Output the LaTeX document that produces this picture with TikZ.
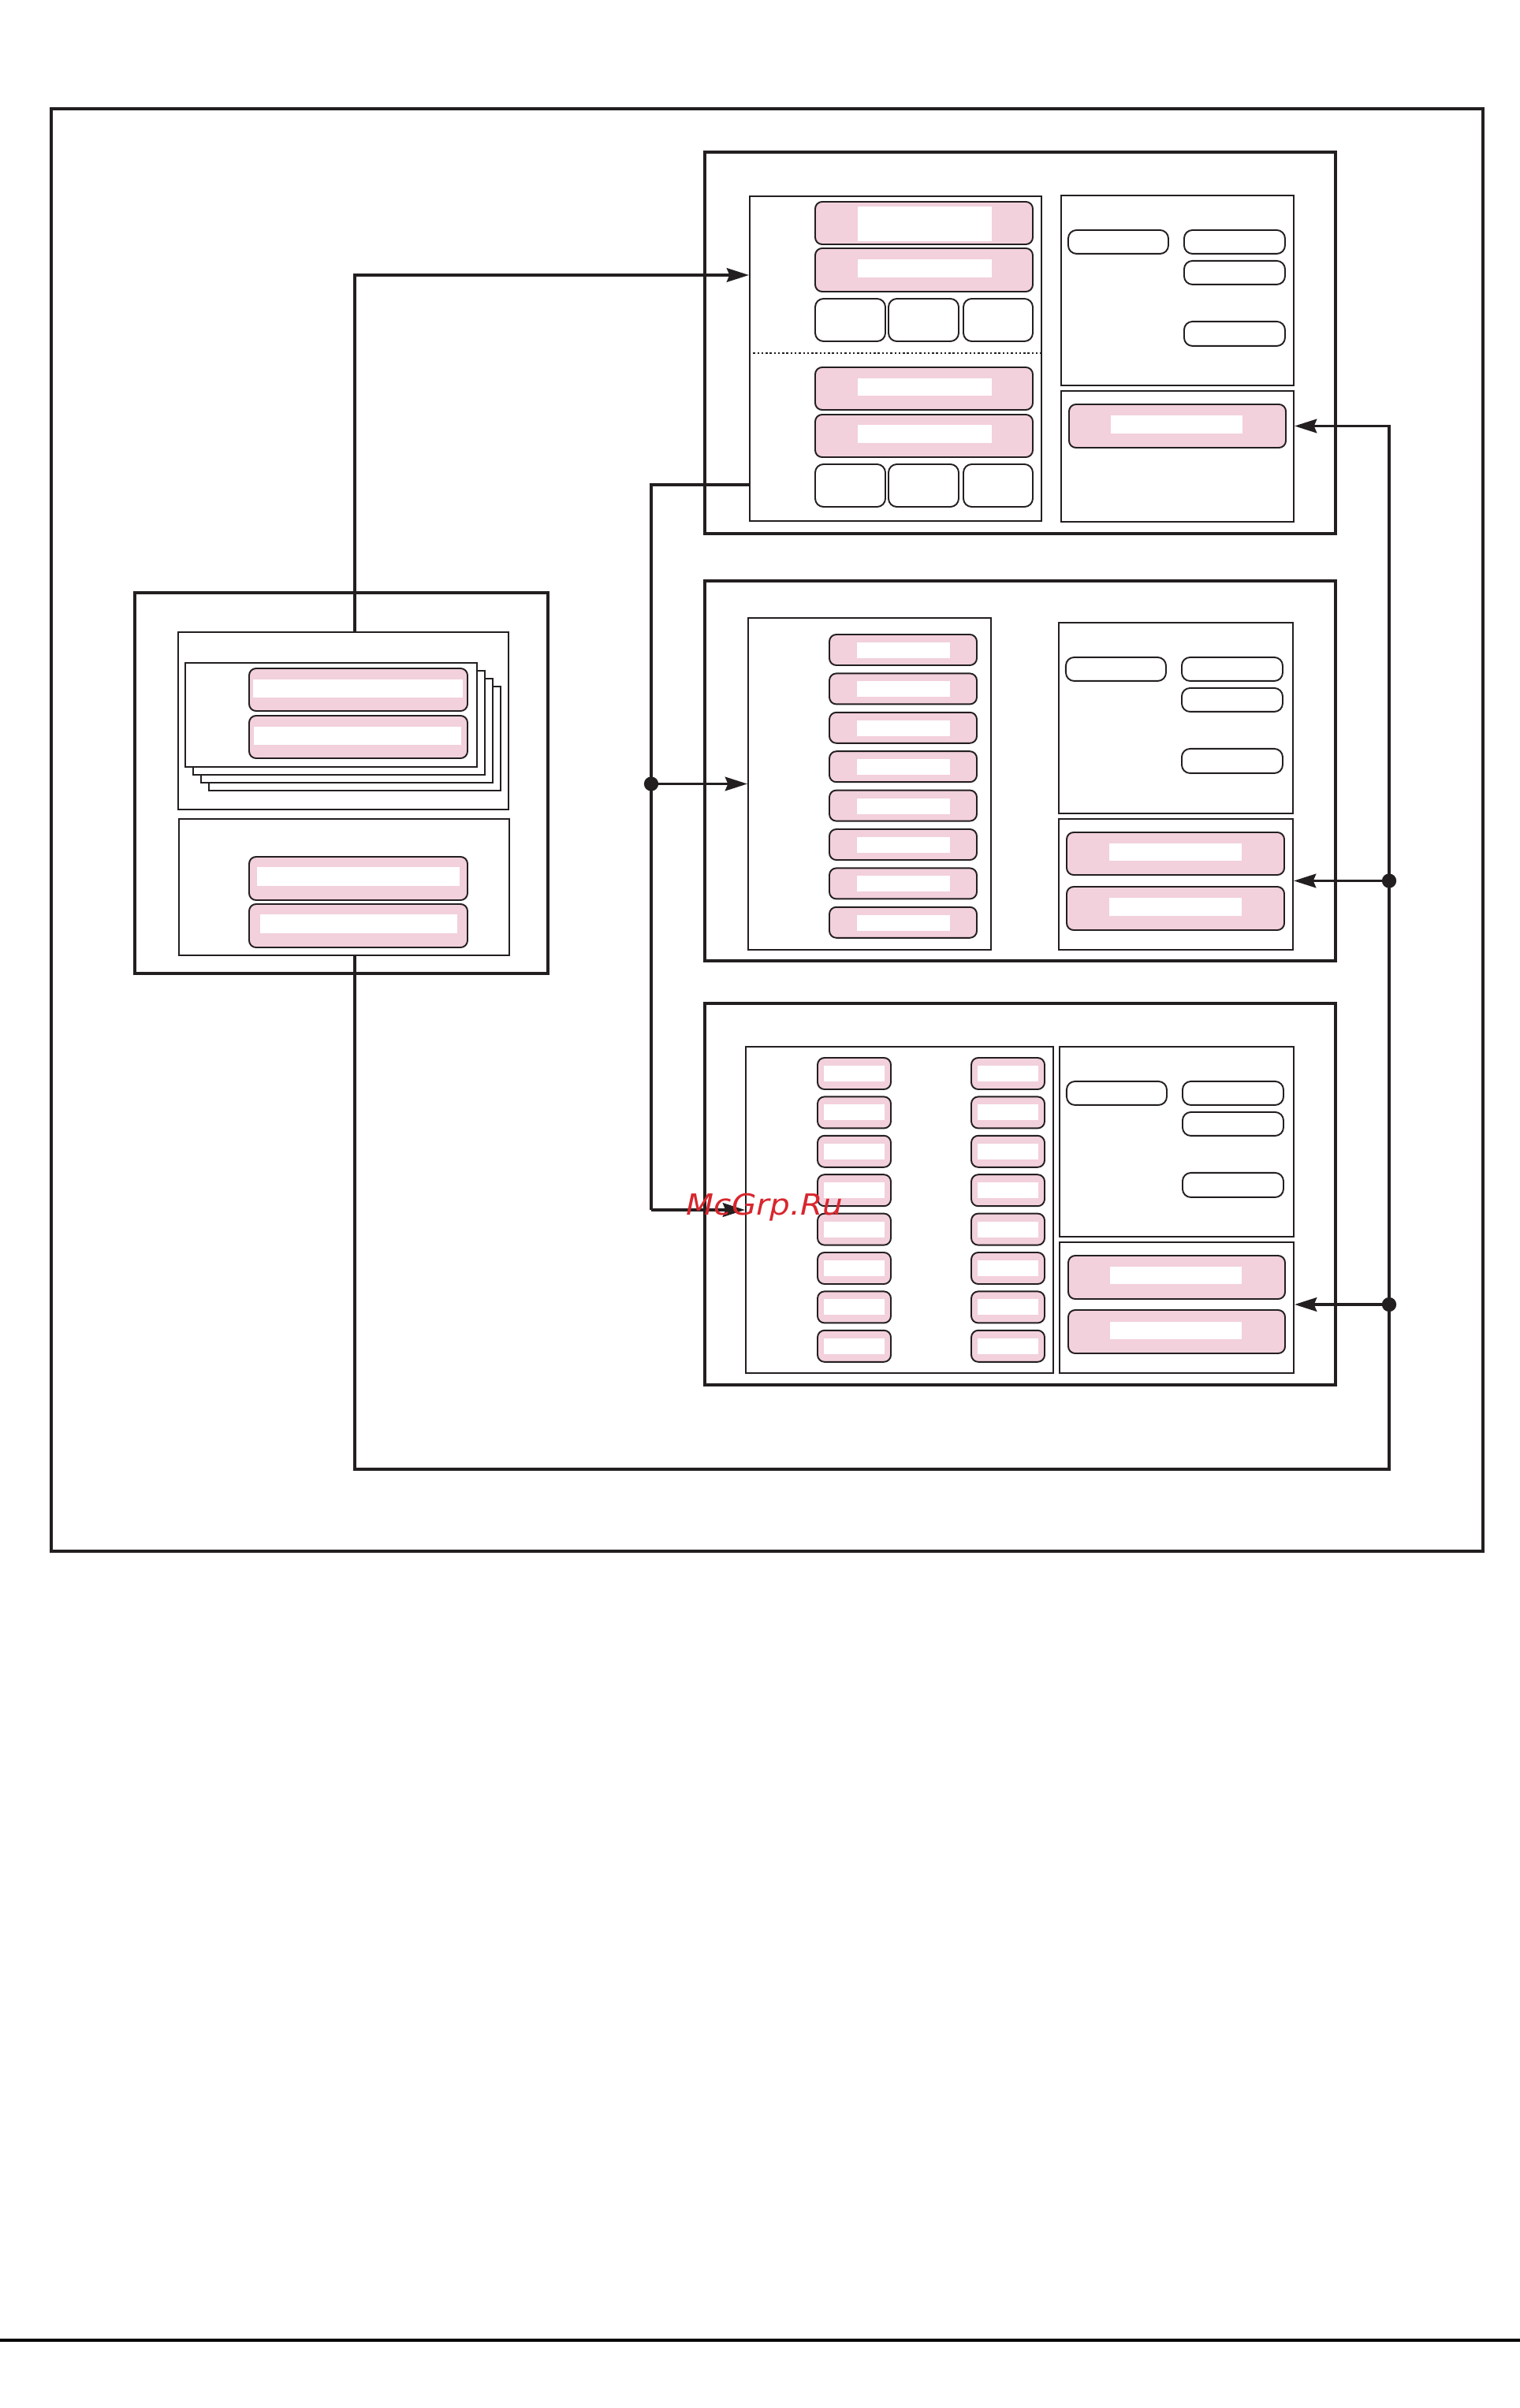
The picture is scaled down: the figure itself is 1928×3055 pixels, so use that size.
\documentclass[tikz,border=0pt]{standalone}
\usepackage{tikz}
\usetikzlibrary{arrows.meta,positioning,calc,fit}
\usepackage{fontspec}
\newfontfamily\wmfont{DejaVu Sans}
\definecolor{ink}{HTML}{231F20}
\definecolor{pinkfill}{HTML}{F2D0DC}
\definecolor{wmred}{HTML}{D8262E}

\begin{document}
\begin{tikzpicture}[x=0.01cm, y=-0.01cm,
  frame/.style={draw=ink, line width=1pt, inner sep=0pt},
  block/.style={draw=ink, line width=0.95pt, inner sep=0pt},
  panel/.style={draw=ink, line width=0.6pt, inner sep=0pt},
  bar/.style={draw=ink, fill=pinkfill, line width=0.55pt, rounded corners=2.5pt, inner sep=0pt},
  keybox/.style={draw=ink, fill=white, line width=0.55pt, rounded corners=3pt},
  sheet/.style={draw=ink, fill=white, line width=0.5pt},
  link/.style={draw=ink, line width=1pt},
  arr/.style={link, -{Stealth[length=8pt,width=5pt,inset=1pt]}}]
  \useasboundingbox (0,0) rectangle (1928,3055);

  % Outer frame and page rule
  \node[frame, fit={(65,138) (1881,1968)}] (page) {};
  \draw[black, line width=1.2pt] (0,2969) -- (1928,2969);

  % Left block with stacked sheets
  \node[frame, fit={(171,752) (695,1235)}] (lblk) {};
  \node[panel, fit={(226,802) (645,1027)}] (lup) {};
  \node[panel, fit={(227,1039) (646,1212)}] (llo) {};
  \foreach \k in {3,2,1,0}
    \draw[sheet] ({235+10*\k},{841+10*\k}) rectangle ({605+10*\k},{973+10*\k});
  \foreach \ya/\yb/\xa/\xb/\wa/\wb in {848/902/321/587/862/885, 908/962/322/585/922/945,
      1087/1142/326/583/1100/1124, 1147/1202/330/580/1160/1184} {
    \draw[bar] (316,\ya) rectangle (593,\yb);
    \fill[white] (\xa,\wa) rectangle (\xb,\wb);
  }

  % Top block
  \node[block, fit={(894,193) (1694,677)}] (tblk) {};
  \node[panel, fit={(951,249) (1321,661)}] (topL) {};
  \node[panel, fit={(1346,248) (1641,489)}] (tRup) {};
  \node[panel, fit={(1346,496) (1641,662)}] (tRlo) {};
  \foreach \ya/\yb/\wa/\wb in {256/310/262/306, 315/370/329/352, 466/520/480/502, 526/580/539/562} {
    \draw[bar] (1034,\ya) rectangle (1310,\yb);
    \fill[white] (1088,\wa) rectangle (1258,\wb);
  }
  \foreach \ya in {379,589}
    \foreach \xa/\xb in {1034/1123, 1127/1216, 1222/1310}
      \draw[keybox] (\xa,\ya) rectangle (\xb,{\ya+54});
  \draw[ink, line width=0.6pt, dash pattern=on 0.7pt off 0.8pt] (topL.west |- 0,448) -- (topL.east |- 0,448);
  \node[bar, fit={(1356,513) (1631,568)}] (tbar) {};
  \fill[white] (1409,527) rectangle (1576,550);

  % Middle block
  \node[block, fit={(894,737) (1694,1219)}] (mblk) {};
  \node[panel, fit={(949,784) (1257,1205)}] (midL) {};
  \node[panel, fit={(1343,790) (1640,1032)}] (mRup) {};
  \node[panel, fit={(1343,1039) (1640,1205)}] (mRlo) {};
  \foreach \i in {0,...,7} {
    \draw[bar] (1052,{805+49.4*\i}) rectangle (1239,{844+49.4*\i});
    \fill[white] (1087,{815+49.4*\i}) rectangle (1205,{835+49.4*\i});
  }
  \node[bar, fit={(1353,1056) (1629,1110)}] (mbar1) {};
  \node[bar, fit={(1353,1125) (1629,1180)}] (mbar2) {};
  \fill[white] (1407,1070) rectangle (1575,1092);
  \fill[white] (1407,1139) rectangle (1575,1162);

  % Bottom block
  \node[block, fit={(894,1273) (1694,1757)}] (bblk) {};
  \node[panel, fit={(946,1328) (1336,1742)}] (botL) {};
  \node[panel, fit={(1344,1328) (1641,1569)}] (bRup) {};
  \node[panel, fit={(1344,1576) (1641,1742)}] (bRlo) {};
  \foreach \x in {1037,1232}
    \foreach \i in {0,...,7} {
      \draw[bar] (\x,{1342+49.4*\i}) rectangle ({\x+93},{1382+49.4*\i});
      \fill[white] ({\x+8},{1352+49.4*\i}) rectangle ({\x+85},{1372+49.4*\i});
    }
  \node[bar, fit={(1355,1593) (1630,1648)}] (bbar1) {};
  \node[bar, fit={(1355,1662) (1630,1717)}] (bbar2) {};
  \fill[white] (1408,1607) rectangle (1575,1629);
  \fill[white] (1408,1677) rectangle (1575,1699);

  % Keys in the upper right panels
  \foreach \p in {tRup,mRup,bRup} {
    \draw[keybox] ([shift={(10,45)}]\p.north west) rectangle ([shift={(137,75)}]\p.north west);
    \foreach \t/\b in {45/75, 84/114, 161/192}
      \draw[keybox] ([shift={(157,\t)}]\p.north west) rectangle ([shift={(285,\b)}]\p.north west);
  }

  % Connectors
  \coordinate (busL) at (450,0);
  \coordinate (busM) at (826,0);
  \coordinate (busR) at (1762,0);
  \coordinate (busB) at (0,1864);
  \coordinate (mport) at ($(mbar1.south)!.5!(mbar2.north)$);
  \coordinate (bport) at ($(bbar1.south)!.5!(bbar2.north)$);
  \draw[arr] (lup.north -| busL) |- (topL.west |- 0,349);
  \draw[link] (topL.west |- 0,615) -| (busM |- botL.west);
  \draw[arr] (busM |- midL.west) -- (midL.west);
  \draw[arr] (busM |- botL.west) -- (botL.west);
  \draw[arr] (llo.south -| busL) |- (busR |- busB) |- (tRlo.east |- tbar.center);
  \draw[arr] (busR |- mport) -- (mRlo.east |- mport);
  \draw[arr] (busR |- bport) -- (bRlo.east |- bport);
  \fill[ink] (busM |- midL.west) circle (2.6pt);
  \fill[ink] (busR |- mport) circle (2.6pt);
  \fill[ink] (busR |- bport) circle (2.6pt);

  % Watermark
  \node[anchor=base, inner sep=0pt, xscale=1.1, text=wmred,
        font=\wmfont\itshape\fontsize{10.5}{12}\selectfont] (wmark) at (970,1541) {McGrp.Ru};
\end{tikzpicture}
\end{document}
